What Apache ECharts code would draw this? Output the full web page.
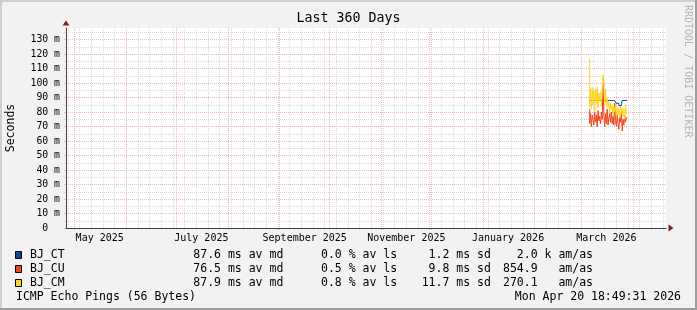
<!DOCTYPE html>
<html><head><meta charset="utf-8">
<script src="https://cdn.jsdelivr.net/npm/echarts@6/dist/echarts.min.js"></script>
<style>html,body{margin:0;padding:0;background:#F2F2F2}#c{width:697px;height:310px}</style>
</head><body><div id="c"></div>
<script>
// ---------- data ----------
const startTime = '2025-04-25 18:49:31';
const endTime = '2026-04-20 18:49:31';
const seriesNames = ['BJ_CT', 'BJ_CU', 'BJ_CM'];
const times = ['2026-03-06 00:00','2026-03-06 12:00','2026-03-07 00:00','2026-03-07 12:00','2026-03-08 00:00','2026-03-08 12:00',
  '2026-03-09 00:00','2026-03-09 12:00','2026-03-10 00:00','2026-03-10 12:00','2026-03-11 00:00','2026-03-11 12:00',
  '2026-03-12 00:00','2026-03-12 12:00','2026-03-13 00:00','2026-03-13 12:00','2026-03-14 00:00','2026-03-14 12:00',
  '2026-03-15 00:00','2026-03-15 12:00','2026-03-16 00:00','2026-03-16 12:00','2026-03-17 00:00','2026-03-17 12:00',
  '2026-03-18 00:00','2026-03-18 12:00','2026-03-19 00:00','2026-03-19 12:00','2026-03-20 00:00','2026-03-20 12:00',
  '2026-03-21 00:00','2026-03-21 12:00','2026-03-22 00:00','2026-03-22 12:00','2026-03-23 00:00','2026-03-23 12:00',
  '2026-03-24 00:00','2026-03-24 12:00','2026-03-25 00:00','2026-03-25 12:00','2026-03-26 00:00','2026-03-26 12:00',
  '2026-03-27 00:00','2026-03-27 12:00','2026-03-28 00:00','2026-03-28 12:00'];
// values in ms
const ctValues = [null,88,88,88,87.5,88,88,88.5,88,88, 88,87.5,88,88,88,88.5,88,88,88,88,
  87.5,88,88,88,88,88,88,88,88,88, 88,88,88,86,86,86,84.5,84.5,84.5,86, 88,88,88,88,88,88];
const cuValues = [82,72,79,70,78,75,71,80,73,78, 70,81,74,77,72,80,75,100,78,70,
  79,72,82,71,76,79,73,80,72,77, 71,86,74,70,78,72,68,76,73,79, 67,75,71,78,73,76];
const cmValues = [117,84,96,82,97,85,95,80,96,86, 97,83,93,88,94,84,96,106,99,86,
  96,84,90,83,87,80,86,82,85,78, 84,80,86,77,83,78,82,76,84,79, 83,77,82,75,85,79];
const yTicks = [0,10,20,30,40,50,60,70,80,90,100,110,120,130];
const yMinorTicks = [5,15,25,35,45,55,65,75,85,95,105,115,125,135];
const monthStarts = ['2025-05-01','2025-06-01','2025-07-01','2025-08-01','2025-09-01','2025-10-01',
  '2025-11-01','2025-12-01','2026-01-01','2026-02-01','2026-03-01','2026-04-01'];
const monthLabelDates = ['2025-05-16','2025-07-16','2025-09-16','2025-11-16','2026-01-16','2026-03-16'];
const monthLabels = ['May 2025','July 2025','September 2025','November 2025','January 2026','March 2026'];
const firstWeekStart = '2025-04-27';
const medianAvg = [87.6, 76.5, 87.9];
const lossAvg = [0.0, 0.5, 0.8];
const sdValues = [1.2, 9.8, 11.7];
const amasValues = [2.0, 854.9, 270.1];
const amasPrefix = ['k', ' ', ' '];
const titleText = 'Last 360 Days';
const yName = 'Seconds';
const footerLeft = 'ICMP Echo Pings (56 Bytes)';
const footerRight = 'Mon Apr 20 18:49:31 2026';
const watermark = 'RRDTOOL / TOBI OETIKER';

// ---------- helpers ----------
function ts(s) {
  const m = s.match(/(\d+)-(\d+)-(\d+)(?: (\d+):(\d+)(?::(\d+))?)?/);
  return Date.UTC(+m[1], +m[2] - 1, +m[3], +(m[4] || 0), +(m[5] || 0), +(m[6] || 0));
}
const S = ts(startTime), E = ts(endTime);
const weekTimes = [];
for (let t = ts(firstWeekStart); t <= E; t += 7 * 86400000) weekTimes.push(t);
const monthTimes = monthStarts.map(ts);
const labelTimes = monthLabelDates.map(ts);

const FONT = '"DejaVu Sans Mono", monospace';
const colors = ['#0C4A8E', '#F5421A', '#FFD61A'];
const gridGray = '#dadada';
const gridRed = '#f0b8b8';
const axisColor = '#404040';
const arrowColor = '#801f1f';
const values = [ctValues, cuValues, cmValues];

const chart = echarts.init(document.getElementById('c'), null, {renderer: 'canvas'});

const graphics = [
  {type: 'rect', shape: {x: 0, y: 0, width: 697, height: 2}, style: {fill: '#CFCFCF'}},
  {type: 'rect', shape: {x: 0, y: 0, width: 2, height: 310}, style: {fill: '#CFCFCF'}},
  {type: 'rect', shape: {x: 0, y: 308, width: 697, height: 2}, style: {fill: '#9E9E9E'}},
  {type: 'rect', shape: {x: 695, y: 0, width: 2, height: 310}, style: {fill: '#9E9E9E'}},
  {type: 'text', x: 348.5, y: 19, style: {text: titleText, font: '13.3px ' + FONT, fill: '#000', align: 'center', verticalAlign: 'middle'}},
  {type: 'text', x: 687.5, y: 5, rotation: -Math.PI / 2, style: {text: watermark, font: '10px ' + FONT, fill: '#b4b4b4', align: 'left', verticalAlign: 'middle'}},
  {type: 'text', x: 16, y: 297, style: {text: footerLeft, font: '11.5px ' + FONT, fill: '#000', align: 'left', verticalAlign: 'middle'}},
  {type: 'text', x: 681, y: 297, style: {text: footerRight, font: '11.5px ' + FONT, fill: '#000', align: 'right', verticalAlign: 'middle'}}
];
const rowY = [255, 269, 283];
seriesNames.forEach((n, i) => {
  const y = rowY[i];
  graphics.push({type: 'rect', shape: {x: 15.5, y: y - 3.5, width: 6, height: 7}, style: {fill: colors[i], stroke: '#000', lineWidth: 1}});
  const t = (x, s) => graphics.push({type: 'text', x: x, y: y, style: {text: s, font: '11.5px ' + FONT, fill: '#000', align: 'left', verticalAlign: 'middle'}});
  t(30, n);
  t(193.3, medianAvg[i].toFixed(1) + ' ms av md');
  t(321, lossAvg[i].toFixed(1) + ' % av ls');
  t(421.7, sdValues[i].toFixed(1).padStart(4) + ' ms sd');
  t(503, amasValues[i].toFixed(1).padStart(5) + ' ' + amasPrefix[i] + ' am/as');
});

const option = {
  animation: false,
  backgroundColor: '#F2F2F2',
  grid: {left: 66, top: 28, width: 600, height: 200, show: true, backgroundColor: '#ffffff', borderWidth: 0, containLabel: false, outerBoundsMode: 'none'},
  xAxis: [
    {type: 'value', min: S, max: E, position: 'bottom', z: 3,
      axisLine: {show: true, onZero: false, lineStyle: {color: axisColor, width: 1}},
      axisTick: {show: false}, splitLine: {show: false},
      axisLabel: {show: true, customValues: labelTimes, hideOverlap: false, margin: 5,
        formatter: v => { const k = labelTimes.indexOf(+v); return k >= 0 ? monthLabels[k] : ''; },
        color: '#000', fontFamily: FONT, fontSize: 10}},
    {type: 'value', min: S, max: E, position: 'bottom', z: 0,
      axisLine: {show: false}, axisLabel: {show: false},
      axisTick: {show: true, customValues: weekTimes, length: 2, lineStyle: {color: gridGray}},
      splitLine: {show: true, lineStyle: {color: gridGray, type: [1, 1], width: 1}}},
    {type: 'value', min: S, max: E, position: 'bottom', z: 1,
      axisLine: {show: true, onZero: false, symbol: ['none', 'triangle'], symbolSize: [7, 5], symbolOffset: [0, 5],
        lineStyle: {color: arrowColor, opacity: 0}},
      axisLabel: {show: false},
      axisTick: {show: true, customValues: monthTimes, length: 2, lineStyle: {color: gridRed, opacity: 1}},
      splitLine: {show: true, lineStyle: {color: gridRed, type: [1, 1], width: 1, opacity: 1}}}
  ],
  yAxis: [
    {type: 'value', min: 0, max: 138, position: 'left', z: 2,
      name: yName, nameLocation: 'middle', nameGap: 49, nameRotate: 90, nameMoveOverlap: false,
      nameTextStyle: {fontFamily: FONT, fontSize: 11.5, color: '#000'},
      axisLine: {show: true, onZero: false, lineStyle: {color: axisColor, width: 1}},
      axisTick: {show: true, customValues: yTicks, length: 2, lineStyle: {color: gridRed}},
      axisLabel: {customValues: yTicks, formatter: v => v === 0 ? '0  ' : v + ' m', fontFamily: FONT, fontSize: 9.8, color: '#000', margin: 6},
      splitLine: {show: true, lineStyle: {color: gridRed, type: [1, 1], width: 1}}},
    {type: 'value', min: 0, max: 138, position: 'left', z: 0,
      axisLine: {show: true, onZero: false, symbol: ['none', 'triangle'], symbolSize: [7, 5], symbolOffset: [0, 5],
        lineStyle: {color: arrowColor, opacity: 0}},
      axisTick: {show: true, customValues: yMinorTicks, length: 2, lineStyle: {color: gridGray, opacity: 1}},
      axisLabel: {show: false},
      splitLine: {show: true, lineStyle: {color: gridGray, type: [1, 1], width: 1, opacity: 1}}}
  ],
  series: seriesNames.map((n, i) => ({
    name: n, type: 'line', xAxisIndex: 0, yAxisIndex: 0, z: 3 + i,
    data: times.map((t, j) => [ts(t), values[i][j]]),
    step: 'start', showSymbol: false, symbol: 'none', connectNulls: false,
    lineStyle: {width: 1, color: colors[i]}, itemStyle: {color: colors[i]}
  })),
  graphic: graphics
};
chart.setOption(option);
</script>
</body></html>
